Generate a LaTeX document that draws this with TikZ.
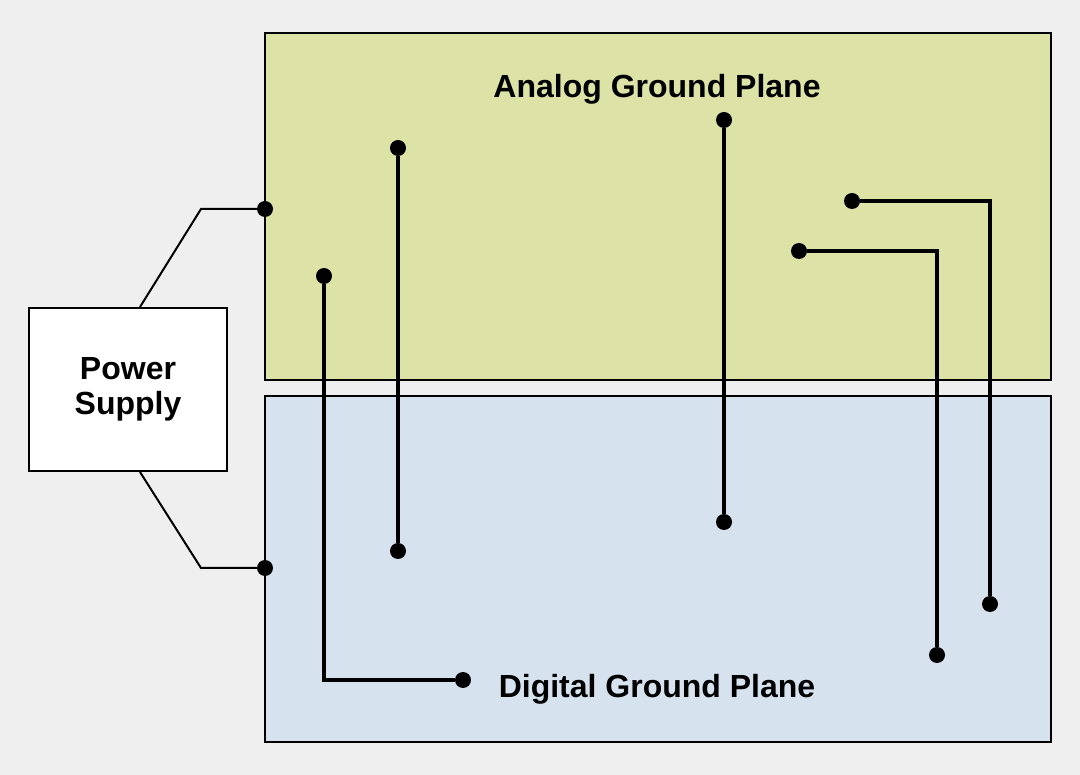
\documentclass[tikz,border=0pt]{standalone}
\usepackage{fontspec}
\setmainfont{Liberation Sans}
\definecolor{bggray}{HTML}{EFEFEF}
\definecolor{analogfill}{HTML}{DDE2A6}
\definecolor{digitalfill}{HTML}{D6E3EE}

\begin{document}
\begin{tikzpicture}[x=1pt,y=-1pt,line join=miter,
		plane/.style={draw,line width=2pt},
		dot/.style={circle,fill=black,inner sep=0pt,minimum size=16pt},
		trace/.style={line width=3.5pt},
		wire/.style={line width=2pt},
		lbl/.style={font=\fontsize{32}{35}\selectfont\bfseries}]
		
		\fill[bggray] (0,0) rectangle (1080,775);
		\useasboundingbox (0,0) rectangle (1080,775);
		
		% ground planes
		\draw[plane,fill=analogfill] (265,33) rectangle (1051,380);
		\draw[plane,fill=digitalfill] (265,396) rectangle (1051,742);
		\node[lbl,anchor=base] (analoglabel) at (657,98) {Analog Ground Plane};
		\node[lbl,anchor=base] (digitallabel) at (657,697) {Digital Ground Plane};
		
		% power supply
		\node[draw,line width=2pt,fill=white,minimum width=198pt,minimum height=163pt,
			align=center,lbl] (psu) at (128,389.5) {Power\\Supply};
		\node[dot] (pa) at (265,209) {};
		\node[dot] (pd) at (265,568) {};
		\coordinate (ka) at (201,209);
		\coordinate (kd) at (201,568);
		\draw[wire] ([xshift=12pt]psu.north) -- (ka) -- (pa);
		\draw[wire] ([xshift=12pt]psu.south) -- (kd) -- (pd);
		
		% traces crossing the split
		\node[dot] (ta) at (398,148) {};
		\node[dot] (tb) at (398,551) {};
		\node[dot] (ua) at (324,276) {};
		\node[dot] (ub) at (463,680) {};
		\node[dot] (va) at (724,120) {};
		\node[dot] (vb) at (724,522) {};
		\node[dot] (wa) at (852,201) {};
		\node[dot] (wb) at (990,604) {};
		\node[dot] (za) at (799,251) {};
		\node[dot] (zb) at (937,655) {};
		
		\draw[trace] (ta) -- (tb);
		\draw[trace] (ua) |- (ub);
		\draw[trace] (va) -- (vb);
		\draw[trace] (wa) -| (wb);
		\draw[trace] (za) -| (zb);
		
	\end{tikzpicture}
\end{document}
